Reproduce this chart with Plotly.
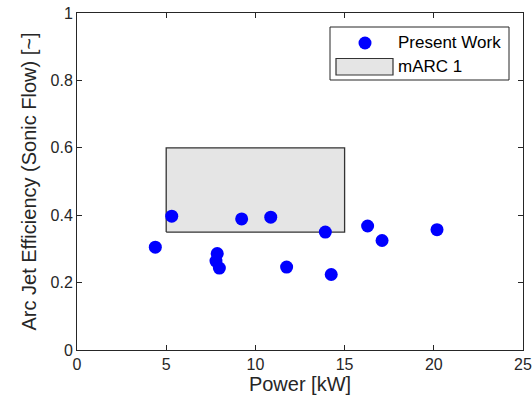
import plotly.graph_objects as go

# Data
power_kw = [4.39, 5.31, 7.86, 7.79, 7.98, 9.23, 10.86, 13.92, 11.75, 14.25, 16.29, 17.10, 20.18]
efficiency = [0.305, 0.397, 0.286, 0.264, 0.243, 0.389, 0.394, 0.350, 0.246, 0.224, 0.368, 0.325, 0.357]
marc_power = [5, 15]
marc_eff = [0.35, 0.60]
x_ticks = [0, 5, 10, 15, 20, 25]
y_ticks = [0, 0.2, 0.4, 0.6, 0.8, 1]
y_tick_labels = ["0", "0.2", "0.4", "0.6", "0.8", "1"]

W, H = 532, 411
L, R, T, B = 77, 523, 13, 350

def px(x):
    return (x - L) / (R - L)

def py(y):
    return (B - y) / (B - T)

FONT = "Liberation Sans, Arial, sans-serif"
AX = "#262626"

fig = go.Figure()
fig.add_trace(go.Scatter(
    x=[marc_power[0], marc_power[1], marc_power[1], marc_power[0], marc_power[0]],
    y=[marc_eff[0], marc_eff[0], marc_eff[1], marc_eff[1], marc_eff[0]],
    fill="toself", fillcolor="#e5e5e5", mode="lines",
    line=dict(color="#333333", width=1.3), showlegend=False, hoverinfo="skip"))
fig.add_trace(go.Scatter(
    x=power_kw, y=efficiency, mode="markers",
    marker=dict(color="#0000ff", size=13, line=dict(width=0)), showlegend=False))

# manual legend
shapes = [
    dict(type="rect", xref="paper", yref="paper", x0=px(330), x1=px(509), y0=py(80), y1=py(27),
         line=dict(color=AX, width=1), fillcolor="white", layer="above"),
    dict(type="circle", xref="paper", yref="paper", xsizemode="pixel", ysizemode="pixel",
         xanchor=px(365), yanchor=py(43), x0=-6.5, x1=6.5, y0=-6.5, y1=6.5,
         fillcolor="#0000ff", line=dict(width=0), layer="above"),
    dict(type="rect", xref="paper", yref="paper", x0=px(336), x1=px(393), y0=py(75), y1=py(58.5),
         fillcolor="#e5e5e5", line=dict(color="#333333", width=1.2), layer="above"),
]
annotations = [
    dict(text="Present Work", xref="paper", yref="paper", x=px(396), y=py(43), xanchor="left",
         yanchor="middle", showarrow=False, font=dict(family=FONT, size=17, color="#000")),
    dict(text="mARC 1", xref="paper", yref="paper", x=px(396), y=py(66.5), xanchor="left",
         yanchor="middle", showarrow=False, font=dict(family=FONT, size=17, color="#000")),
]

axis_common = dict(showline=True, linecolor=AX, linewidth=1, mirror="ticks", ticks="inside",
                   ticklen=5, tickcolor=AX, showgrid=False, zeroline=False, automargin=False,
                   tickfont=dict(family=FONT, size=16, color=AX))
fig.update_layout(
    width=W, height=H, margin=dict(l=L, r=W - R, t=T, b=H - B, autoexpand=False),
    paper_bgcolor="white", plot_bgcolor="white",
    shapes=shapes, annotations=annotations, showlegend=False,
    xaxis=dict(range=[0, 25], tickvals=x_ticks, title=dict(text="Power [kW]", standoff=4,
               font=dict(family=FONT, size=20, color=AX)), **axis_common),
    yaxis=dict(range=[0, 1], tickvals=y_ticks, ticktext=y_tick_labels,
               title=dict(text="Arc Jet Efficiency (Sonic Flow) [~]", standoff=8,
                          font=dict(family=FONT, size=20, color=AX)), **axis_common),
)
fig.write_html("out.html")
